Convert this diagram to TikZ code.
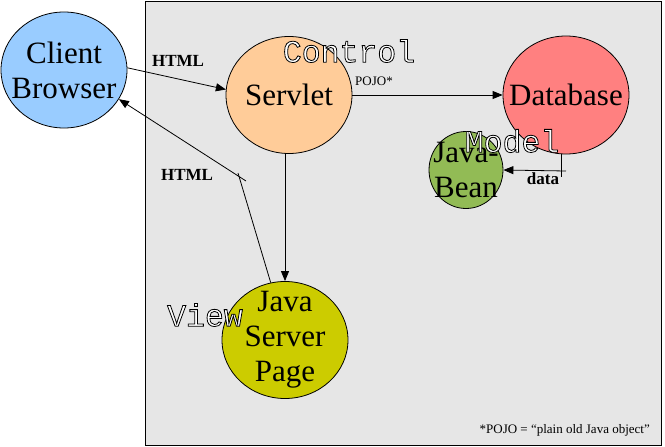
\documentclass[tikz,border=0pt]{standalone}
\usepackage{fontspec}
\setmainfont{Liberation Serif}
\newfontfamily\monofont{Liberation Mono}
\newfontfamily\timesfont{Liberation Serif}
\usetikzlibrary{shapes.geometric,arrows.meta}
\definecolor{bgray}{RGB}{230,230,230}
\definecolor{cblue}{RGB}{153,204,255}
\definecolor{corange}{RGB}{255,204,153}
\definecolor{cred}{RGB}{255,128,128}
\definecolor{cgreen}{RGB}{146,187,85}
\definecolor{cyellow}{RGB}{204,204,0}
\newcommand\outltext[1]{{\color{white}\special{pdf:literal 2 Tr 0.8 w 0 G}#1\special{pdf:literal 0 Tr}}}
\tikzset{
  blob/.style={ellipse, draw=black, line width=0.8pt, inner sep=-35pt, align=center,
    font=\timesfont\fontsize{31}{35}\selectfont},
  arr/.style={line width=0.8pt, -{Triangle[length=10pt,width=8pt]}},
  ln/.style={line width=0.8pt},
  boldlbl/.style={inner sep=0pt, font=\timesfont\bfseries\fontsize{17}{20}\selectfont},
  smalllbl/.style={inner sep=0pt, font=\timesfont\fontsize{13}{15}\selectfont},
  outlbl/.style={inner sep=0pt, font=\monofont\fontsize{31.5}{35}\selectfont}
}
\begin{document}
\begin{tikzpicture}[x=1pt,y=-1pt]
\useasboundingbox (0,0) rectangle (665,447);
\filldraw[fill=bgray, draw=black, line width=1pt] (145,1) rectangle (661,445);

\node[blob, fill=cblue, minimum width=126pt, minimum height=116pt] (client) at (64,70) {Client\\Browser};
\node[blob, fill=corange, minimum width=126pt, minimum height=117pt] (servlet) at (289,95) {Servlet};
\node[blob, fill=cred, minimum width=126pt, minimum height=118pt] (db) at (566,95) {Database};
\node[blob, fill=cgreen, minimum width=74pt, minimum height=77pt] (bean) at (466,170) {Java-\\Bean};
\node[blob, fill=cyellow, minimum width=126pt, minimum height=117pt] (jsp) at (285,340) {Java\\Server\\Page};

\coordinate (k1) at (238,173);
\coordinate (k2) at (246,181);
\coordinate (d1) at (561,177);
\coordinate (d2) at (566,171);

\draw[arr] (client.2) -- (servlet.175);
\draw[arr] (servlet.east) -- (db.west);
\draw[arr] (servlet.south -| jsp.north) -- (jsp.north);
\draw[ln] (jsp.104) -- (k1);
\draw[arr] (k2) -- (client.-28);
\draw[ln] (db.south -| d1) -- (d1);
\draw[arr] (d2) -- (bean.east);

\node[boldlbl] (h1) at (178,61) {HTML};
\node[boldlbl] (h2) at (187,175) {HTML};
\node[smalllbl] (pojo) at (374,81) {POJO*};
\node[boldlbl] (data) at (543,179) {data};
\node[smalllbl, anchor=base east] (foot) at (650,433) {*POJO = “plain old Java object”};

\node[outlbl] (control) at (349,51) {\outltext{Control}};
\node[outlbl] (model) at (512,141) {\outltext{Model}};
\node[outlbl] (view) at (205,315) {\outltext{View}};
\end{tikzpicture}
\end{document}
